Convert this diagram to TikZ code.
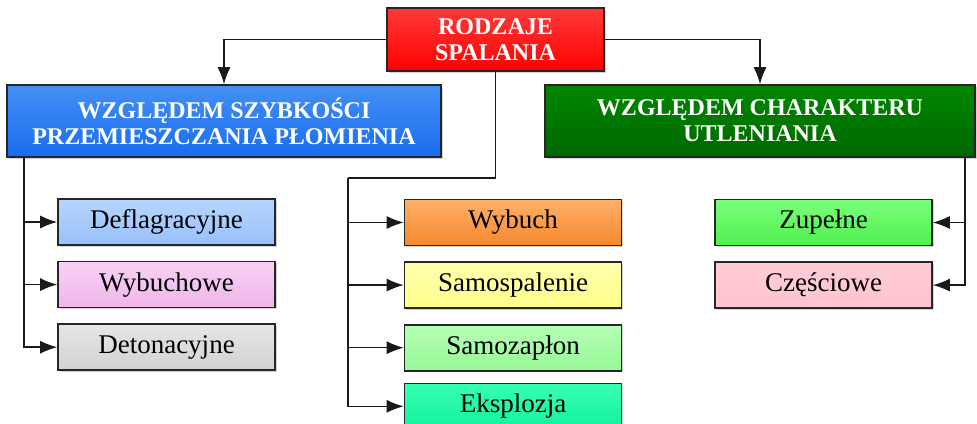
\documentclass[tikz,border=0pt]{standalone}
\usepackage{fontspec}
\setmainfont{Liberation Serif}
\usetikzlibrary{arrows.meta,positioning,shadows,calc}

\definecolor{redT}{HTML}{FF3A3A}\definecolor{redB}{HTML}{FF0000}
\definecolor{blueT}{HTML}{4390F4}\definecolor{blueB}{HTML}{1A6CF0}
\definecolor{greenT}{HTML}{008600}\definecolor{greenB}{HTML}{006800}
\definecolor{deflT}{HTML}{B6D6FF}\definecolor{deflB}{HTML}{98C0F8}
\definecolor{wybsT}{HTML}{F8D2F4}\definecolor{wybsB}{HTML}{EEB6EA}
\definecolor{detT}{HTML}{E6E6E6}\definecolor{detB}{HTML}{D2D2D2}
\definecolor{wybT}{HTML}{FFB06A}\definecolor{wybB}{HTML}{F5882C}
\definecolor{sspT}{HTML}{FFFFAC}\definecolor{sspB}{HTML}{FFFF8A}
\definecolor{szpT}{HTML}{B6FFB6}\definecolor{szpB}{HTML}{96F896}
\definecolor{eksT}{HTML}{36FFB0}\definecolor{eksB}{HTML}{14F29E}
\definecolor{zupT}{HTML}{7CFF7C}\definecolor{zupB}{HTML}{4EF04E}
\definecolor{czeT}{HTML}{FFCCD6}\definecolor{czeB}{HTML}{FFC4D0}

\begin{document}
\begin{tikzpicture}
[x=1pt, y=-1pt, node distance=15pt, >={Latex[length=17pt,width=13pt]},
box/.style = {draw=black!85, line width=1.6pt, shape=rectangle, align=center,
  inner sep=0pt, drop shadow={shadow xshift=1.5pt, shadow yshift=-1.5pt, opacity=.35}},
head/.style = {box, text=white, font=\bfseries\fontsize{24}{26}\selectfont},
leaf/.style = {box, minimum width=217pt, minimum height=46pt,
  font=\fontsize{27}{28}\selectfont},
conn/.style = {draw, line width=1.5pt, black!90}]
\useasboundingbox (0,0) rectangle (977,423);

% naglowki
\node [head, minimum width=217pt, minimum height=63pt,
  top color=redT, bottom color=redB] (rodz) at (495.5,39.5) {RODZAJE\\SPALANIA};
\node [head, minimum width=434pt, minimum height=72pt,
  top color=blueT, bottom color=blueB] (szyb) at (224,121)
  {WZGLĘDEM SZYBKOŚCI\\PRZEMIESZCZANIA PŁOMIENIA};
\node [head, minimum width=430pt, minimum height=72pt,
  top color=greenT, bottom color=greenB] (char) at (760,121)
  {WZGLĘDEM CHARAKTERU\\UTLENIANIA};

% lewa kolumna
\node [leaf, top color=deflT, bottom color=deflB] (defl) at (166.5,222) {Deflagracyjne};
\node [leaf, below=of defl, top color=wybsT, bottom color=wybsB] (wybs) {Wybuchowe};
\node [leaf, below=of wybs, top color=detT, bottom color=detB] (deto) {Detonacyjne};

% srodkowa kolumna
\node [leaf, top color=wybT, bottom color=wybB] (wyb) at (513,222.5) {Wybuch};
\node [leaf, below=of wyb, top color=sspT, bottom color=sspB] (ssp) {Samospalenie};
\node [leaf, below=of ssp, top color=szpT, bottom color=szpB] (szp) {Samozapłon};
\node [leaf, below=11pt of szp, top color=eksT, bottom color=eksB] (eks) {Eksplozja};

% prawa kolumna
\node [leaf, top color=zupT, bottom color=zupB] (zup) at (823.5,222.5) {Zupełne};
\node [leaf, below=of zup, top color=czeT, bottom color=czeB] (cze) {Częściowe};

\coordinate (lbus) at ($(szyb.south west)+(18,0)$);
\coordinate (mbus) at (348,178);
\coordinate (rbus) at ($(char.south east)+(-11,0)$);

\path[conn,->]
(rodz.west) -| (szyb.north);
\path[conn,->]
(rodz.east) -| (char.north);
\path[conn]
(rodz.south) |- (mbus);

\path[conn,->] (lbus) |- (defl.west);
\path[conn,->] (lbus) |- (wybs.west);
\path[conn,->] (lbus) |- (deto.west);

\path[conn,->] (mbus) |- (wyb.west);
\path[conn,->] (mbus) |- (ssp.west);
\path[conn,->] (mbus) |- (szp.west);
\path[conn,->] (mbus) |- (eks.west);

\path[conn,->] (rbus) |- (zup.east);
\path[conn,->] (rbus) |- (cze.east);

\end{tikzpicture}
\end{document}
